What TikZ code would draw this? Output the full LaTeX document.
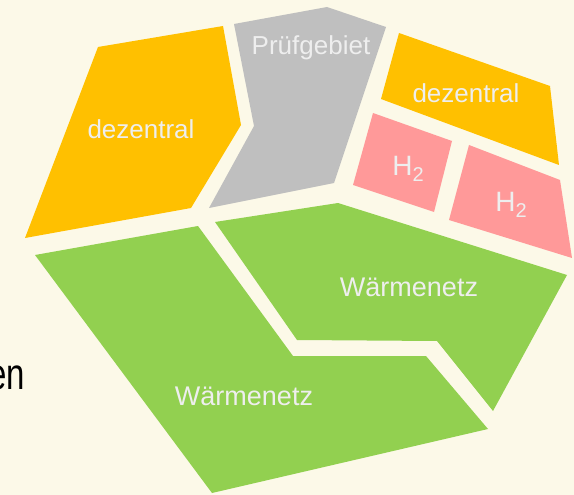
\documentclass[tikz,border=0pt]{standalone}
\usepackage{fontspec}
\setmainfont{Liberation Sans}
\definecolor{bgc}{HTML}{FCF9E8}
\definecolor{yel}{HTML}{FFC000}
\definecolor{gry}{HTML}{BFBFBF}
\definecolor{pnk}{HTML}{FF9999}
\definecolor{grn}{HTML}{92D050}
\definecolor{lbl}{HTML}{EEEEEE}
\tikzset{
  region/.style={draw=none},
  lab/.style={text=lbl, font=\fontsize{26}{26}\selectfont, inner sep=0pt},
}
\newcommand{\Hzwei}{{\fontsize{28}{28}\selectfont H}\raisebox{-0.4ex}{\fontsize{20}{20}\selectfont 2}}
\begin{document}
\begin{tikzpicture}[x=1pt,y=-1pt]
\fill[bgc] (0,0) rectangle (574,495);
\useasboundingbox (0,0) rectangle (574,495);
% regions
\fill[yel,region] (98,47) -- (223,26) -- (241,125) -- (191,208) -- (25,238) -- cycle;
\fill[gry,region] (234,24) -- (327,7) -- (386,27) -- (334,183) -- (209,208) -- (254,126) -- cycle;
\fill[yel,region] (399,33) -- (550,86) -- (559,165) -- (381,99) -- cycle;
\fill[pnk,region] (373,113) -- (452,141) -- (434,212) -- (353,185) -- cycle;
\fill[pnk,region] (469,145) -- (560,180) -- (572,258) -- (449,220) -- cycle;
\fill[grn,region] (215,222) -- (338,203) -- (567,275) -- (493,411) -- (437,341) -- (297,340) -- cycle;
\fill[grn,region] (35,255) -- (198,226) -- (293,356) -- (426,356) -- (488,429) -- (212,493) -- cycle;
% labels
\node[lab] (d1) at (141,129) {dezentral};
\node[lab] (pg) at (311,48) {Prüfgebiet};
\node[lab] (d2) at (466,93) {dezentral};
\node[lab] (h1) at (408,169) {\Hzwei};
\node[lab] (h2) at (511,205) {\Hzwei};
\node[lab, font=\fontsize{27}{27}\selectfont] (w1) at (409,287) {Wärmenetz};
\node[lab, font=\fontsize{27}{27}\selectfont] (w2) at (244,396) {Wärmenetz};
\node[inner sep=0pt, anchor=base east, font=\fontsize{44}{44}\selectfont] (en) at (25,389) {\scalebox{0.75}[1]{en}};
\end{tikzpicture}
\end{document}
